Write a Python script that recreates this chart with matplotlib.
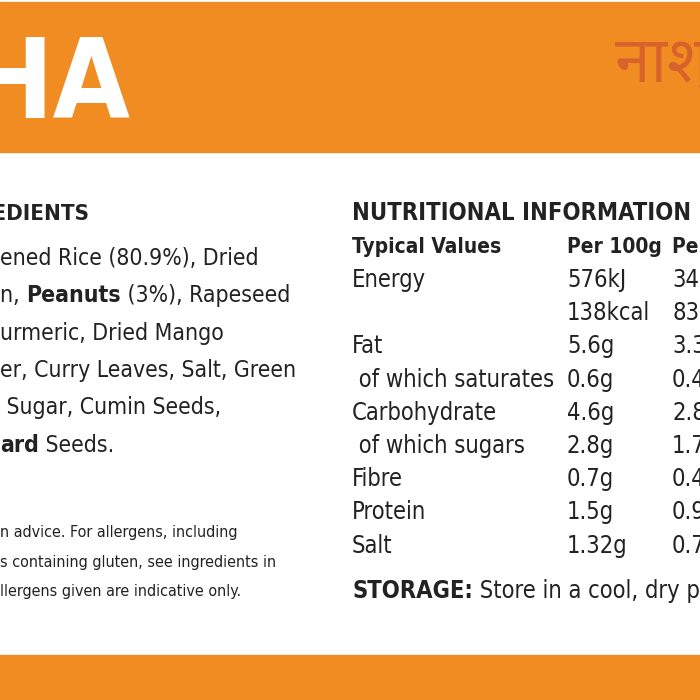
import matplotlib.pyplot as plt
from matplotlib.patches import Rectangle

# nutrition table
nutrients = ['Energy', '', 'Fat', ' of which saturates', 'Carbohydrate',
             ' of which sugars', 'Fibre', 'Protein', 'Salt']
per_100g = ['576kJ', '138kcal', '5.6g', '0.6g', '4.6g', '2.8g', '0.7g', '1.5g', '1.32g']
per_portion = ['340kJ', '83kcal', '3.3g', '0.4g', '2.8g', '1.7g', '0.4g', '0.9g', '0.79g']

ingredient_lines = [
    [('ened Rice (80.9%), Dried', 'normal')],
    [('n, ', 'normal'), ('Peanuts', 'bold'), (' (3%), Rapeseed', 'normal')],
    [('urmeric, Dried Mango', 'normal')],
    [('er, Curry Leaves, Salt, Green', 'normal')],
    [(' Sugar, Cumin Seeds,', 'normal')],
    [('ard', 'bold'), (' Seeds.', 'normal')],
]
allergy_lines = ['n advice. For allergens, including',
                 's containing gluten, see ingredients in',
                 'llergens given are indicative only.']

plt.rcParams['font.family'] = 'DejaVu Sans'
plt.rcParams['font.stretch'] = 'condensed'
ORANGE = '#F08C22'
TXT = '#222222'

fig = plt.figure(figsize=(7, 7), dpi=100)
ax = fig.add_axes([0, 0, 1, 1])
ax.set_xlim(0, 700)
ax.set_ylim(700, 0)
ax.axis('off')

ax.add_patch(Rectangle((0, 2), 700, 150, color=ORANGE))
ax.add_patch(Rectangle((0, 655), 700, 45, color=ORANGE))
ax.text(-30, 118, 'HA', fontsize=80, color='white', fontweight='bold',
        va='baseline', clip_on=True)
ax.text(615, 82, 'नाश्ता', fontsize=46, color='#D9622B', fontweight='bold',
        family=['Noto Sans Devanagari', 'Noto Sans'], va='baseline', clip_on=True)

# ingredients column
ax.text(89, 220, 'INGREDIENTS', fontsize=16, fontweight='bold', ha='right',
        color=TXT, va='baseline')
for i, segs in enumerate(ingredient_lines):
    y = 265 + i * 37.3
    x = 0
    for s, w in segs:
        t = ax.text(x, y, s, fontsize=16.5, fontweight=w, color=TXT, va='baseline')
        fig.canvas.draw()
        x += t.get_window_extent().width
for i, s in enumerate(allergy_lines):
    ax.text(0, 537 + i * 29.5, s, fontsize=11.5, color=TXT, va='baseline')

# nutrition table
cols = [352, 567, 672]
ax.text(cols[0], 220, 'NUTRITIONAL INFORMATION', fontsize=17, fontweight='bold',
        color=TXT, va='baseline')
for x, h in zip(cols, ['Typical Values', 'Per 100g', 'Per 60g']):
    ax.text(x, 253, h, fontsize=15, fontweight='bold', color=TXT,
            va='baseline', clip_on=True)
for i, (n, a, b) in enumerate(zip(nutrients, per_100g, per_portion)):
    y = 287 + i * 33.2
    ax.text(cols[0], y, n, fontsize=17, color=TXT, va='baseline')
    ax.text(cols[1], y, a, fontsize=17, color=TXT, va='baseline')
    ax.text(cols[2], y, b, fontsize=17, color=TXT, va='baseline', clip_on=True)
t = ax.text(cols[0], 598, 'STORAGE:', fontsize=17, fontweight='bold',
            color=TXT, va='baseline')
fig.canvas.draw()
ax.text(cols[0] + t.get_window_extent().width, 598, ' Store in a cool, dry place',
        fontsize=17, color=TXT, va='baseline', clip_on=True)

fig.savefig('out.png', dpi=100)
